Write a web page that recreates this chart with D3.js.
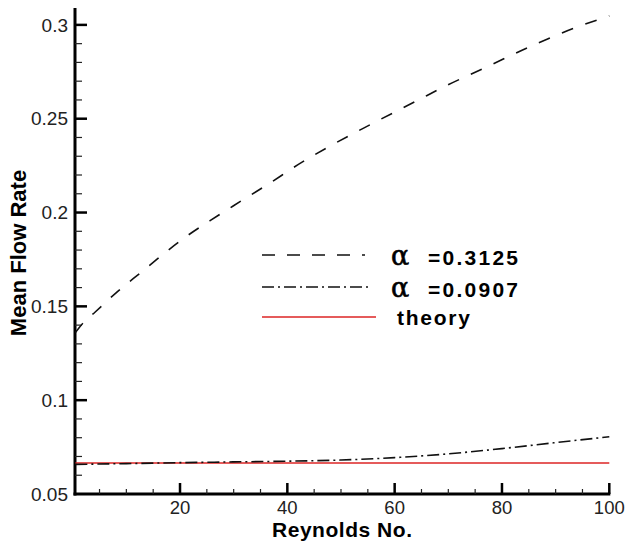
<!DOCTYPE html>
<html><head><meta charset="utf-8">
<script src="https://cdn.jsdelivr.net/npm/d3@7/dist/d3.min.js"></script>
<style>body{margin:0;background:#fff}svg{display:block}</style>
</head><body>
<svg id="c" width="626" height="543"></svg>
<script>
// ---- data ----
const reA = [0.5, 1.9, 4.2, 8.4, 12.9, 17.2, 21.3, 25.6, 29.9, 36.2, 42.9, 47.3, 55.7, 64.1, 69.9, 76.8, 85.2, 93.6, 100];
const flowA = [0.136, 0.141, 0.147, 0.158, 0.1685, 0.1786, 0.1875, 0.1957, 0.2035, 0.2147, 0.2271, 0.2344, 0.2472, 0.2595, 0.268, 0.2771, 0.2884, 0.2984, 0.3048];
const reB = [0.5, 10, 20, 30, 40, 50, 60, 70, 80, 90, 100];
const flowB = [0.0658, 0.0662, 0.0667, 0.0671, 0.0675, 0.0681, 0.0694, 0.0714, 0.0742, 0.0774, 0.0805];
const reTheory = [0.5, 100];
const flowTheory = [0.0665, 0.0665];
const xMajor = [20, 40, 60, 80, 100];
const yMajor = [0.05, 0.1, 0.15, 0.2, 0.25, 0.3];
const yLabels = ["0.05", "0.1", "0.15", "0.2", "0.25", "0.3"];
const legendLabels = ["=0.3125", "=0.0907", "theory"];

// ---- layout ----
const svg = d3.select("#c");
const x = d3.scaleLinear().domain([0.43, 100]).range([75, 609.3]);
const y = d3.scaleLinear().domain([0.05, 0.309]).range([494, 8]);

const xMinor = d3.range(5, 100, 5).filter(v => v % 20 !== 0);
const yMinor = d3.range(6, 31).map(v => v / 100).filter(v => Math.round(v * 100) % 5 !== 0);

// axes lines
svg.append("line").attr("x1", x.range()[0]).attr("x2", x.range()[0]).attr("y1", y.range()[1]).attr("y2", y.range()[0] + 1.5)
  .attr("stroke", "#000").attr("stroke-width", 3);
svg.append("line").attr("x1", x.range()[0] - 1.5).attr("x2", x(100) + 1).attr("y1", y.range()[0]).attr("y2", y.range()[0])
  .attr("stroke", "#000").attr("stroke-width", 3);

// y ticks (inward)
const gy = svg.append("g");
gy.selectAll(".ymaj").data(yMajor.filter(v => v > 0.05)).join("line")
  .attr("x1", 75).attr("x2", 75 + 12).attr("y1", d => y(d)).attr("y2", d => y(d))
  .attr("stroke", "#000").attr("stroke-width", 2.5);
gy.selectAll(".ymin").data(yMinor).join("line")
  .attr("x1", 75).attr("x2", 75 + 7).attr("y1", d => y(d)).attr("y2", d => y(d))
  .attr("stroke", "#222").attr("stroke-width", 1.2);
gy.selectAll("text").data(yMajor).join("text")
  .attr("x", 68).attr("y", d => y(d)).attr("dy", "0.35em").attr("text-anchor", "end")
  .attr("font-family", "Liberation Sans, Arial, sans-serif").attr("font-size", 19).attr("fill", "#222")
  .text((d, i) => yLabels[i]);

// x ticks (inward)
const gx = svg.append("g");
gx.selectAll(".xmaj").data(xMajor).join("line")
  .attr("x1", d => x(d)).attr("x2", d => x(d)).attr("y1", 494).attr("y2", 494 - 11)
  .attr("stroke", "#000").attr("stroke-width", 2.5);
gx.selectAll(".xmin").data(xMinor).join("line")
  .attr("x1", d => x(d)).attr("x2", d => x(d)).attr("y1", 494).attr("y2", 494 - 5)
  .attr("stroke", "#222").attr("stroke-width", 1.2);
gx.selectAll("text").data(xMajor).join("text")
  .attr("x", d => x(d)).attr("y", 514).attr("text-anchor", "middle")
  .attr("font-family", "Liberation Sans, Arial, sans-serif").attr("font-size", 18.5).attr("fill", "#222")
  .text(d => d);

// titles
svg.append("text").attr("x", 342).attr("y", 537).attr("text-anchor", "middle")
  .attr("font-family", "Liberation Sans, Arial, sans-serif").attr("font-size", 21).attr("font-weight", "bold")
  .attr("textLength", 140).attr("lengthAdjust", "spacing")
  .text("Reynolds No.");
svg.append("text").attr("transform", "translate(26,253) rotate(-90)").attr("text-anchor", "middle")
  .attr("font-family", "Liberation Sans, Arial, sans-serif").attr("font-size", 22).attr("font-weight", "bold")
  .text("Mean Flow Rate");

// lines
const line = d3.line().x(d => x(d[0])).y(d => y(d[1])).curve(d3.curveMonotoneX);
const seriesA = reA.map((r, i) => [r, flowA[i]]);
const seriesB = reB.map((r, i) => [r, flowB[i]]);
const seriesT = reTheory.map((r, i) => [r, flowTheory[i]]);

svg.append("path").attr("d", line(seriesT)).attr("fill", "none").attr("stroke", "#dc2424").attr("stroke-width", 1.6);
svg.append("path").attr("d", line(seriesB)).attr("fill", "none").attr("stroke", "#111").attr("stroke-width", 1.6)
  .attr("stroke-dasharray", "12,4,2,4");
svg.append("path").attr("d", line(seriesA)).attr("fill", "none").attr("stroke", "#111").attr("stroke-width", 1.6)
  .attr("stroke-dasharray", "12,13");

// legend
const leg = svg.append("g");
const legStyles = [
  {dash: "13,12", color: "#111", y: 255, x2: 365},
  {dash: "12,4,2,4", color: "#111", y: 287, x2: 372},
  {dash: null, color: "#dc2424", y: 317, x2: 376}
];
legStyles.forEach((s, i) => {
  const l = leg.append("line").attr("x1", 262).attr("x2", s.x2).attr("y1", s.y).attr("y2", s.y)
    .attr("stroke", s.color).attr("stroke-width", 1.6);
  if (s.dash) l.attr("stroke-dasharray", s.dash);
});
[0, 1].forEach(i => {
  leg.append("text").attr("x", 391).attr("y", legStyles[i].y + 10)
    .attr("font-family", "DejaVu Serif, serif").attr("font-size", 27)
    .attr("stroke", "#000").attr("stroke-width", 0.6)
    .text("α");
  leg.append("text").attr("x", 428).attr("y", legStyles[i].y + 10)
    .attr("font-family", "Liberation Sans, Arial, sans-serif").attr("font-size", 21).attr("font-weight", "bold")
    .attr("textLength", 90).attr("lengthAdjust", "spacing")
    .text(legendLabels[i]);
});
leg.append("text").attr("x", 397).attr("y", 325)
  .attr("font-family", "Liberation Sans, Arial, sans-serif").attr("font-size", 21).attr("font-weight", "bold")
  .attr("textLength", 73).attr("lengthAdjust", "spacing")
  .text(legendLabels[2]);
</script>
</body></html>
